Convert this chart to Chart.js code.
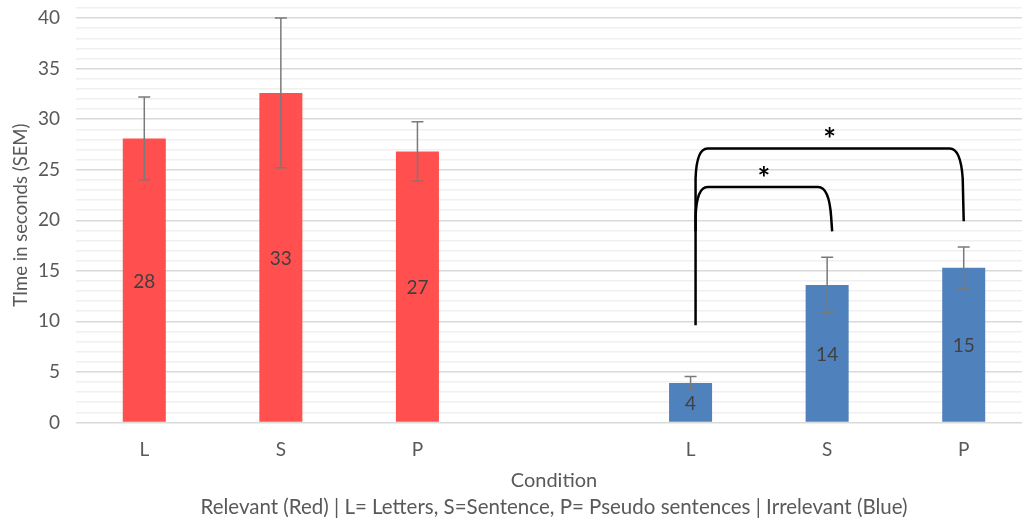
<!DOCTYPE html>
<html>
<head>
<meta charset="utf-8">
<script src="https://cdn.jsdelivr.net/npm/chart.js@4.4.1/dist/chart.umd.min.js"></script>
<style>
  html, body { margin: 0; padding: 0; background: #fff; overflow: hidden; }
  #wrap { width: 1040px; height: 520px; }
</style>
</head>
<body>
<div id="wrap"><canvas id="grafico"></canvas></div>
<script>
// Categorias del eje x (la cuarta va vacia para separar los grupos)
var categorias = ['L', 'S', 'P', '', 'L', 'S', 'P'];
// Relevante (rojo)
var mediasRelevante = [28.1, 32.6, 26.8, null, null, null, null];
var semRelevante = [4.1, 7.4, 2.95, null, null, null, null];
// Irrelevante (azul)
var mediasIrrelevante = [null, null, null, null, 3.9, 13.6, 15.3];
var semIrrelevante = [null, null, null, null, 0.65, 2.75, 2.05];
// Comparaciones significativas: categoria inicial, final, base de cada pata, altura del tramo horizontal
var comparaciones = [
  { desde: 4, hasta: 5, pataIzq: 9.6, pataDer: 18.9, arriba: 23.3 },
  { desde: 4, hasta: 6, pataIzq: 18.9, pataDer: 19.9, arriba: 27.1 }
];
var ticksY = [0, 5, 10, 15, 20, 25, 30, 35, 40];

var fuente = 'Lato, "Open Sans", sans-serif';
var gris = '#595959';

/* Barras de error, etiquetas y llaves */
var extras = {
  id: 'extras',
  afterDatasetsDraw: function(chart) {
    var c = chart.ctx;
    var x = chart.scales.x;
    var y = chart.scales.y;
    c.save();
    // error
    chart.data.datasets.forEach(function(ds) {
      ds.data.forEach(function(v, i) {
        if (v == null) return;
        var px = x.getPixelForValue(i);
        var arriba = y.getPixelForValue(v + ds.sem[i]);
        var abajo = y.getPixelForValue(v - ds.sem[i]);
        c.strokeStyle = '#7a7a7a';
        c.lineWidth = 1.5;
        c.beginPath();
        c.moveTo(px, arriba); c.lineTo(px, abajo);
        c.moveTo(px - 6, arriba); c.lineTo(px + 6, arriba);
        c.moveTo(px - 6, abajo); c.lineTo(px + 6, abajo);
        c.stroke();
      });
    });
    // etiquetas
    c.fillStyle = '#404040';
    c.font = '19px ' + fuente;
    c.textAlign = 'center';
    c.textBaseline = 'middle';
    chart.data.datasets.forEach(function(ds) {
      ds.data.forEach(function(v, i) {
        if (v == null) return;
        var px = x.getPixelForValue(i);
        var py = (y.getPixelForValue(v) + y.getPixelForValue(0)) / 2;
        c.fillText(Math.round(v), px, py + 1);
      });
    });
    // llaves
    c.strokeStyle = '#000';
    c.lineWidth = 2.5;
    comparaciones.forEach(function(k, n) {
      var xi = x.getPixelForValue(k.desde) + 5;
      var xd = x.getPixelForValue(k.hasta) + (n === 0 ? 5 : 0);
      var yt = y.getPixelForValue(k.arriba);
      var yi = y.getPixelForValue(k.pataIzq);
      var yd = y.getPixelForValue(k.pataDer);
      c.beginPath();
      c.moveTo(xi, yi);
      c.lineTo(xi, yt + 30);
      c.quadraticCurveTo(xi + 1, yt, xi + 12, yt);
      c.lineTo(xd - 14, yt);
      c.quadraticCurveTo(xd - 3, yt, xd - 1, yt + 30);
      c.lineTo(xd, yd);
      c.stroke();
      c.fillStyle = '#000';
      c.font = 'bold 30px ' + fuente;
      c.fillText('*', (xi + xd) / 2, yt - 8);
    });
    c.restore();
  }
};

new Chart(document.getElementById('grafico'), {
  type: 'bar',
  data: {
    labels: categorias,
    datasets: [{
      label: 'Relevant',
      data: mediasRelevante,
      sem: semRelevante,
      backgroundColor: '#ff4f4f',
      grouped: false,
      categoryPercentage: 1,
      barPercentage: 0.315
    }, {
      label: 'Irrelevant',
      data: mediasIrrelevante,
      sem: semIrrelevante,
      backgroundColor: '#4f81bd',
      grouped: false,
      categoryPercentage: 1,
      barPercentage: 0.315
    }]
  },
  options: {
    responsive: true,
    maintainAspectRatio: false,
    animation: false,
    layout: { padding: { top: 8, right: 8, left: 0, bottom: 0 } },
    plugins: {
      legend: { display: false },
      tooltip: { enabled: false },
      title: {
        display: true,
        position: 'bottom',
        fullSize: false,
        text: 'Relevant (Red) | L= Letters, S=Sentence, P= Pseudo sentences | Irrelevant (Blue)',
        color: gris,
        font: { family: fuente, size: 20.5, weight: 'normal', lineHeight: 1.2 },
        padding: { top: 0, bottom: 0 }
      }
    },
    scales: {
      x: {
        afterFit: function(s) {
          s.height = 73;
          s.paddingLeft = 0; s.paddingRight = 0;
        },
        grid: { display: false, drawTicks: false },
        border: { display: false },
        ticks: { color: gris, font: { family: fuente, size: 19 }, padding: 16 },
        title: {
          display: true,
          text: 'Condition',
          color: gris,
          font: { family: fuente, size: 20 },
          padding: { top: 9, bottom: 3 }
        }
      },
      y: {
        min: 0,
        max: 41,
        afterFit: function(s) {
          s.width = 76;
          s.paddingTop = 0; s.paddingBottom = 0;
        },
        afterBuildTicks: function(s) {
          var t = [];
          for (var v = 0; v <= 41; v++) t.push({ value: v });
          s.ticks = t;
        },
        grid: {
          drawTicks: false,
          color: function(ctx) {
            return ticksY.indexOf(ctx.tick.value) >= 0 ? '#d9d9d9' : '#f0f0f0';
          },
          lineWidth: 1.5
        },
        border: { display: false },
        ticks: {
          autoSkip: false,
          color: gris,
          font: { family: fuente, size: 19 },
          padding: 16,
          callback: function(v) { return ticksY.indexOf(v) >= 0 ? v : ''; }
        },
        title: {
          display: true,
          text: 'TIme in seconds (SEM)',
          color: gris,
          font: { family: fuente, size: 18.5 },
          padding: { top: 10, bottom: 0 }
        }
      }
    }
  },
  plugins: [extras]
});
</script>
</body>
</html>
